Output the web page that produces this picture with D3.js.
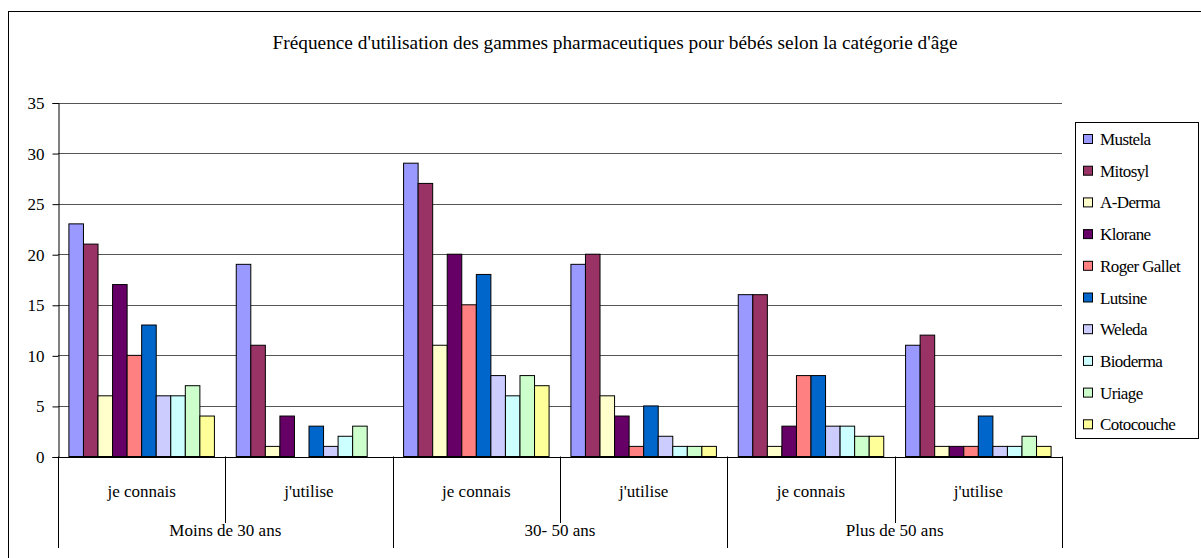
<!DOCTYPE html>
<html>
<head>
<meta charset="utf-8">
<script src="https://cdn.jsdelivr.net/npm/d3@7"></script>
<style>
    body { margin: 0; background: #fff; }
</style>
</head>
<body>
<svg id="chart" width="1201" height="558"></svg>
<script>
// categories
var subCats = ["je connais", "j'utilise", "je connais", "j'utilise", "je connais", "j'utilise"];
var ageGroups = ["Moins de 30 ans", "30- 50 ans", "Plus de 50 ans"];
var brands = ["Mustela", "Mitosyl", "A-Derma", "Klorane", "Roger Gallet", "Lutsine", "Weleda", "Bioderma", "Uriage", "Cotocouche"];
var colors = ["#9999FF", "#993366", "#FFFFCC", "#660066", "#FF8080", "#0066CC", "#CCCCFF", "#CCFFFF", "#CCFFCC", "#FFFF99"];
var yTicks = [0, 5, 10, 15, 20, 25, 30, 35];

// series values, one per sub category
var mustela     = [23, 19, 29, 19, 16, 11];
var mitosyl     = [21, 11, 27, 20, 16, 12];
var aDerma      = [6, 1, 11, 6, 1, 1];
var klorane     = [17, 4, 20, 4, 3, 1];
var rogerGallet = [10, 0, 15, 1, 8, 1];
var lutsine     = [13, 3, 18, 5, 8, 4];
var weleda      = [6, 1, 8, 2, 3, 1];
var bioderma    = [6, 2, 6, 1, 3, 1];
var uriage      = [7, 3, 8, 1, 2, 2];
var cotocouche  = [4, 0, 7, 1, 2, 1];

var series = [mustela, mitosyl, aDerma, klorane, rogerGallet, lutsine, weleda, bioderma, uriage, cotocouche];

var svg = d3.select("#chart");
var margin = { left: 58, right: 1062, top: 102.5, bottom: 456.5 };
var fontFam = '"Liberation Serif", "Times New Roman", serif';

// chart frame (cropped on the right and bottom like the original)
svg.append("rect")
    .attr("x", 8.5).attr("y", 11.5)
    .attr("width", 1220).attr("height", 600)
    .attr("fill", "#fff").attr("stroke", "#000").attr("stroke-width", 1);

svg.append("text")
    .attr("x", 615).attr("y", 49)
    .attr("text-anchor", "middle")
    .attr("textLength", 685)
    .attr("lengthAdjust", "spacingAndGlyphs")
    .attr("font-family", fontFam)
    .attr("font-size", 18)
    .text("Fréquence d'utilisation des gammes pharmaceutiques pour bébés selon la catégorie d'âge");

var x0 = d3.scaleBand()
    .domain(d3.range(subCats.length))
    .range([margin.left, margin.right])
    .padding(0);

var x1 = d3.scaleBand()
    .domain(d3.range(brands.length))
    .range([0, x0.bandwidth()])
    .paddingInner(0)
    .paddingOuter(0.75);

var yScale = d3.scaleLinear()
    .domain([0, 35])
    .range([margin.bottom, margin.top]);

// gridlines
svg.append("g").selectAll("line").data(yTicks.slice(1)).enter().append("line")
    .attr("x1", margin.left).attr("x2", margin.right)
    .attr("y1", function (d) { return Math.round(yScale(d)) + 0.5; })
    .attr("y2", function (d) { return Math.round(yScale(d)) + 0.5; })
    .attr("stroke", "#555").attr("stroke-width", 1);

// bars, one group per brand
var groups = svg.append("g").selectAll("g").data(series).enter().append("g")
    .attr("fill", function (d, i) { return colors[i]; });

groups.each(function (vals, si)
{
    vals.forEach(function (v, ci)
    {
        if (v <= 0) return;
        d3.select(this).append("rect")
            .attr("x", x0(ci) + x1(si))
            .attr("y", yScale(v))
            .attr("width", x1.bandwidth())
            .attr("height", yScale(0) - yScale(v))
            .attr("stroke", "#000").attr("stroke-width", 1);
    }, this);
});

// y axis
var yAxis = d3.axisLeft(yScale).tickValues(yTicks).tickSize(6).tickPadding(8);
var gy = svg.append("g").attr("transform", "translate(" + (margin.left + 0.5) + ",0.5)").call(yAxis);
gy.attr("font-family", fontFam).attr("font-size", 17);
gy.select(".domain").attr("stroke", "#000");
gy.selectAll(".tick line").attr("stroke", "#000");
gy.selectAll("text").attr("fill", "#000");

// x axis line
svg.append("line")
    .attr("x1", margin.left).attr("x2", margin.right)
    .attr("y1", Math.round(yScale(0)) + 0.5).attr("y2", Math.round(yScale(0)) + 0.5)
    .attr("stroke", "#000");

// separators of the two level category axis
var seps = d3.range(subCats.length + 1);
svg.append("g").selectAll("line").data(seps).enter().append("line")
    .attr("x1", function (d) { return Math.round(d < subCats.length ? x0(d) : margin.right) + 0.5; })
    .attr("x2", function (d) { return Math.round(d < subCats.length ? x0(d) : margin.right) + 0.5; })
    .attr("y1", yScale(0))
    .attr("y2", function (d) { return d % 2 === 0 ? 548 : 523; })
    .attr("stroke", "#000");

svg.append("g").selectAll("text").data(subCats).enter().append("text")
    .attr("x", function (d, i) { return x0(i) + x0.bandwidth() / 2; })
    .attr("y", 497)
    .attr("text-anchor", "middle")
    .attr("font-family", fontFam)
    .attr("font-size", 17)
    .text(function (d) { return d; });

svg.append("g").selectAll("text").data(ageGroups).enter().append("text")
    .attr("x", function (d, i) { return x0(i * 2) + x0.bandwidth(); })
    .attr("y", 536)
    .attr("text-anchor", "middle")
    .attr("font-family", fontFam)
    .attr("font-size", 17)
    .text(function (d) { return d; });

// legend
var legend = svg.append("g");
legend.append("rect")
    .attr("x", 1075.5).attr("y", 122.5)
    .attr("width", 123).attr("height", 316)
    .attr("fill", "#fff").attr("stroke", "#000");

var items = legend.selectAll("g.item").data(brands).enter().append("g")
    .attr("class", "item")
    .attr("transform", function (d, i) { return "translate(1083," + (139 + i * 31.7) + ")"; });
items.append("rect")
    .attr("x", 0.5).attr("y", -4.5).attr("width", 9).attr("height", 9)
    .attr("fill", function (d, i) { return colors[i]; })
    .attr("stroke", "#000");
items.append("text")
    .attr("x", 17).attr("y", 6)
    .attr("font-family", fontFam)
    .attr("font-size", 17)
    .attr("letter-spacing", "-0.6")
    .text(function (d) { return d; });
</script>
</body>
</html>
